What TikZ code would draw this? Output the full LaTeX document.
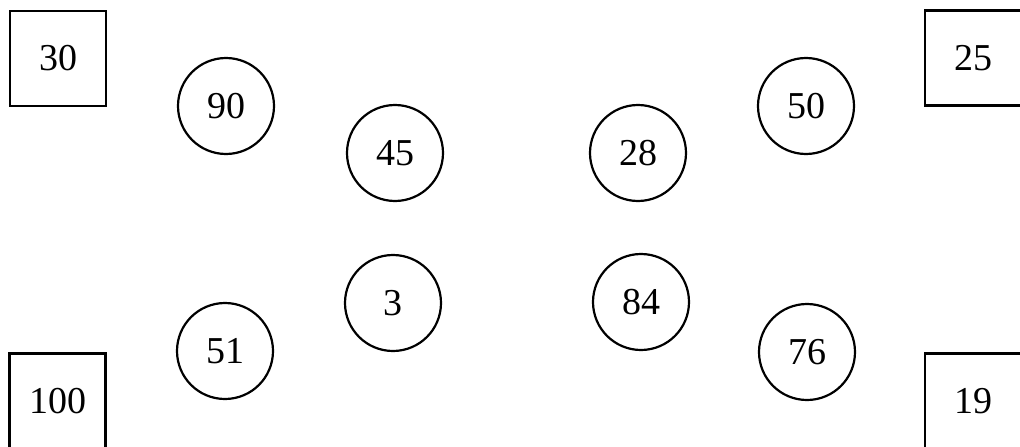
\documentclass[tikz,border=0pt]{standalone}
\usepackage{fontspec}
\setmainfont{Liberation Serif}
\begin{document}
\begin{tikzpicture}[x=1pt,y=-1pt,
  every node/.style={font=\fontsize{38}{40}\selectfont, inner sep=0pt},
  numcircle/.style={draw, circle, line width=2.2pt, minimum size=96pt},
  numbox/.style={draw, rectangle, line width=2.2pt, minimum width=96pt, minimum height=95pt}]
\useasboundingbox (0,0) rectangle (1020,447);
\fill[white] (0,0) rectangle (1020,447);
\node[numbox] (b30) at (58,58.5) {30};
\node[numbox] (b100) at (57.5,401) {100};
\node[numbox] (b25) at (973,58) {25};
\node[numbox] (b19) at (973,401) {19};
\node[numcircle] (c90) at (226,106) {90};
\node[numcircle] (c51) at (225,351) {51};
\node[numcircle] (c45) at (395,153) {45};
\node[numcircle] (c3) at (393,303) {3};
\node[numcircle] (c28) at (638,153) {28};
\node[numcircle] (c84) at (641,302) {84};
\node[numcircle] (c50) at (806,106) {50};
\node[numcircle] (c76) at (807,352) {76};
\end{tikzpicture}
\end{document}
